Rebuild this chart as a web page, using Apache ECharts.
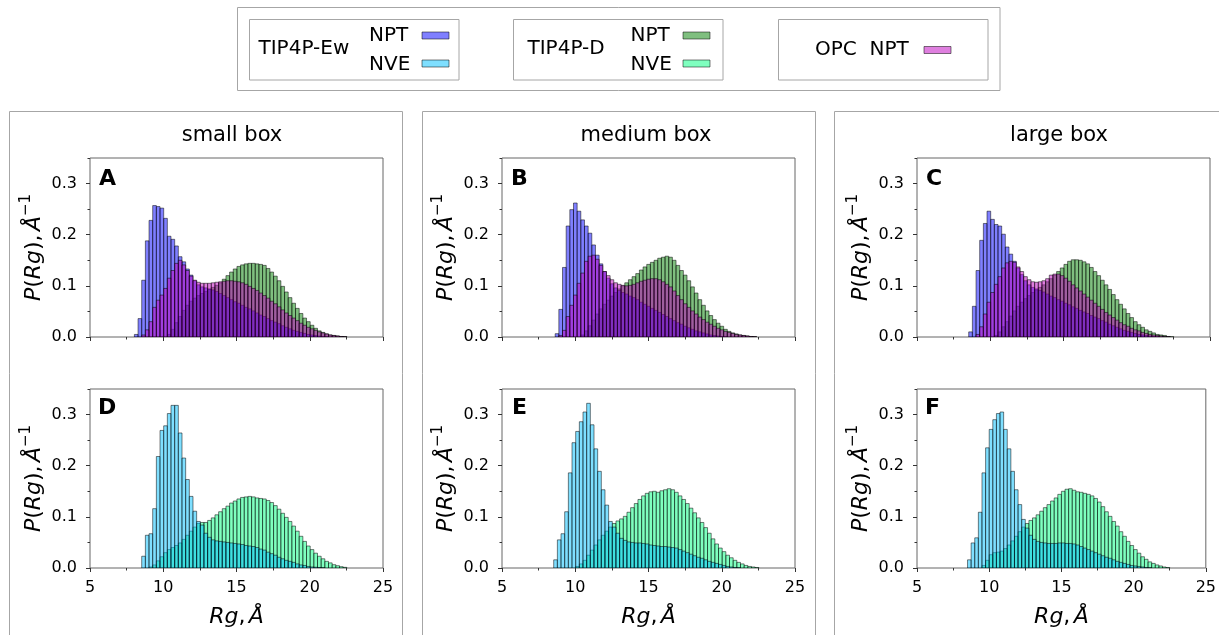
<!DOCTYPE html>
<html>
<head>
<meta charset="utf-8">
<title>Rg distributions</title>
<script src="https://cdn.jsdelivr.net/npm/echarts/dist/echarts.min.js"></script>
<style>
  html, body { margin: 0; padding: 0; background: #fff; }
  #chart { width: 1219px; height: 635px; }
</style>
</head>
<body>
<div id="chart"></div>
<script>
// Histogram bin width (Å) and the left edge of the first bin of each panel
const BIN_WIDTH = 0.25;
const binStartNpt = [8.03, 8.13, 8.03];
const binStartNve = [8.03, 8.03, 8.0];

// Column titles and panel letters
const boxTitles = ['small box', 'medium box', 'large box'];
const panelLetters = [['A', 'B', 'C'], ['D', 'E', 'F']];

// Probability densities P(Rg), one value per bin — NPT runs
const ewNptSmall = [
  0.005, 0.036, 0.111, 0.188, 0.228, 0.257, 0.255, 0.252, 0.232, 0.197,
  0.191, 0.178, 0.157, 0.147, 0.133, 0.121, 0.110, 0.102, 0.098, 0.096,
  0.094, 0.092, 0.089, 0.085, 0.081, 0.077, 0.073, 0.069, 0.066, 0.062,
  0.058, 0.055, 0.051, 0.047, 0.043, 0.040, 0.036, 0.032, 0.029, 0.026,
  0.022, 0.019, 0.016, 0.013, 0.011, 0.009, 0.007, 0.005, 0.004, 0.003,
  0.002, 0.001, 0.0005, 0, 0, 0, 0, 0
];
const dNptSmall = [
  0, 0, 0, 0, 0, 0, 0, 0, 0, 0.005,
  0.015, 0.028, 0.040, 0.052, 0.062, 0.070, 0.076, 0.081, 0.085, 0.089,
  0.093, 0.097, 0.101, 0.106, 0.113, 0.120, 0.127, 0.133, 0.138, 0.141,
  0.143, 0.144, 0.144, 0.143, 0.142, 0.140, 0.134, 0.127, 0.119, 0.110,
  0.099, 0.088, 0.077, 0.066, 0.056, 0.046, 0.037, 0.030, 0.023, 0.017,
  0.012, 0.009, 0.006, 0.004, 0.003, 0.002, 0.001, 0.0005
];
const opcNptSmall = [
  0, 0, 0.004, 0.014, 0.030, 0.058, 0.072, 0.082, 0.095, 0.115,
  0.130, 0.144, 0.150, 0.141, 0.130, 0.119, 0.111, 0.107, 0.105, 0.105,
  0.105, 0.106, 0.107, 0.108, 0.109, 0.110, 0.110, 0.109, 0.108, 0.106,
  0.103, 0.099, 0.095, 0.091, 0.086, 0.081, 0.076, 0.070, 0.065, 0.059,
  0.053, 0.047, 0.042, 0.037, 0.032, 0.027, 0.023, 0.019, 0.016, 0.013,
  0.010, 0.008, 0.006, 0.004, 0.003, 0.002, 0.001, 0.0005
];

const ewNptMedium = [
  0, 0, 0.0065, 0.054, 0.136, 0.217, 0.249, 0.262, 0.246, 0.229,
  0.217, 0.203, 0.180, 0.160, 0.143, 0.128, 0.115, 0.104, 0.096, 0.091,
  0.087, 0.084, 0.080, 0.077, 0.073, 0.068, 0.064, 0.060, 0.056, 0.052,
  0.048, 0.044, 0.040, 0.036, 0.032, 0.028, 0.025, 0.021, 0.018, 0.015,
  0.012, 0.010, 0.008, 0.006, 0.004, 0.003, 0.002, 0.001, 0.0005, 0,
  0, 0, 0, 0, 0, 0, 0, 0
];
const dNptMedium = [
  0, 0, 0, 0, 0, 0, 0, 0, 0, 0.004,
  0.012, 0.022, 0.033, 0.045, 0.055, 0.064, 0.072, 0.080, 0.087, 0.094,
  0.100, 0.106, 0.112, 0.118, 0.124, 0.131, 0.137, 0.142, 0.146, 0.150,
  0.154, 0.156, 0.158, 0.156, 0.150, 0.140, 0.130, 0.121, 0.110, 0.098,
  0.086, 0.073, 0.062, 0.051, 0.042, 0.034, 0.027, 0.021, 0.015, 0.011,
  0.008, 0.006, 0.004, 0.003, 0.002, 0.001, 0.0005, 0
];
const opcNptMedium = [
  0, 0, 0, 0.003, 0.013, 0.040, 0.062, 0.082, 0.105, 0.125,
  0.148, 0.158, 0.160, 0.152, 0.140, 0.128, 0.120, 0.112, 0.106, 0.103,
  0.101, 0.100, 0.101, 0.103, 0.106, 0.109, 0.111, 0.113, 0.114, 0.114,
  0.112, 0.108, 0.103, 0.098, 0.090, 0.081, 0.073, 0.065, 0.058, 0.051,
  0.045, 0.039, 0.034, 0.029, 0.025, 0.021, 0.017, 0.014, 0.011, 0.009,
  0.007, 0.005, 0.004, 0.003, 0.002, 0.001, 0.0005, 0
];

const ewNptLarge = [
  0, 0, 0.010, 0.060, 0.130, 0.189, 0.222, 0.246, 0.230, 0.220,
  0.217, 0.201, 0.176, 0.162, 0.148, 0.135, 0.122, 0.110, 0.102, 0.097,
  0.094, 0.091, 0.088, 0.084, 0.080, 0.077, 0.073, 0.070, 0.066, 0.063,
  0.059, 0.056, 0.052, 0.049, 0.046, 0.042, 0.039, 0.036, 0.032, 0.029,
  0.025, 0.022, 0.019, 0.016, 0.013, 0.011, 0.009, 0.007, 0.005, 0.004,
  0.003, 0.002, 0.001, 0.0005, 0, 0, 0, 0
];
const dNptLarge = [
  0, 0, 0, 0, 0, 0, 0, 0, 0, 0.003,
  0.010, 0.020, 0.030, 0.041, 0.051, 0.060, 0.068, 0.075, 0.081, 0.087,
  0.092, 0.097, 0.102, 0.108, 0.114, 0.121, 0.128, 0.135, 0.142, 0.148,
  0.151, 0.151, 0.150, 0.147, 0.143, 0.136, 0.128, 0.120, 0.111, 0.102,
  0.093, 0.083, 0.073, 0.064, 0.055, 0.046, 0.038, 0.030, 0.024, 0.019,
  0.014, 0.011, 0.008, 0.005, 0.004, 0.003, 0.001, 0.0005
];
const opcNptLarge = [
  0, 0, 0, 0, 0.005, 0.020, 0.045, 0.068, 0.087, 0.103,
  0.118, 0.135, 0.145, 0.148, 0.146, 0.137, 0.128, 0.118, 0.112, 0.108,
  0.107, 0.108, 0.110, 0.114, 0.121, 0.123, 0.123, 0.120, 0.115, 0.109,
  0.102, 0.096, 0.090, 0.084, 0.078, 0.072, 0.066, 0.060, 0.054, 0.048,
  0.043, 0.038, 0.033, 0.028, 0.024, 0.021, 0.017, 0.014, 0.012, 0.009,
  0.007, 0.005, 0.004, 0.003, 0.002, 0.001, 0.0005, 0
];

// NVE runs
const ewNveSmall = [
  0, 0, 0.023, 0.064, 0.067, 0.116, 0.218, 0.269, 0.278, 0.302,
  0.318, 0.318, 0.264, 0.215, 0.173, 0.140, 0.111, 0.091, 0.084, 0.068,
  0.060, 0.055, 0.053, 0.052, 0.051, 0.050, 0.049, 0.048, 0.047, 0.046,
  0.044, 0.043, 0.042, 0.040, 0.037, 0.035, 0.031, 0.028, 0.025, 0.021,
  0.018, 0.015, 0.013, 0.011, 0.008, 0.006, 0.005, 0.003, 0.002, 0.0015,
  0.001, 0.0005, 0, 0, 0, 0, 0, 0
];
const dNveSmall = [
  0, 0, 0, 0, 0.002, 0.006, 0.014, 0.022, 0.030, 0.036,
  0.040, 0.044, 0.049, 0.056, 0.064, 0.072, 0.080, 0.087, 0.089, 0.089,
  0.093, 0.098, 0.104, 0.110, 0.116, 0.121, 0.127, 0.131, 0.135, 0.138,
  0.139, 0.140, 0.139, 0.137, 0.136, 0.135, 0.132, 0.128, 0.122, 0.115,
  0.107, 0.099, 0.091, 0.082, 0.072, 0.062, 0.052, 0.043, 0.036, 0.029,
  0.023, 0.018, 0.013, 0.010, 0.0065, 0.0045, 0.0026, 0.0013
];

const ewNveMedium = [
  0, 0, 0.016, 0.055, 0.067, 0.110, 0.186, 0.245, 0.267, 0.286,
  0.305, 0.322, 0.280, 0.233, 0.189, 0.153, 0.123, 0.091, 0.080, 0.068,
  0.058, 0.054, 0.051, 0.050, 0.049, 0.049, 0.048, 0.047, 0.045, 0.044,
  0.043, 0.042, 0.042, 0.041, 0.040, 0.039, 0.036, 0.033, 0.030, 0.027,
  0.024, 0.021, 0.019, 0.016, 0.013, 0.011, 0.009, 0.007, 0.005, 0.003,
  0.002, 0.001, 0.0005, 0, 0, 0, 0, 0
];
const dNveMedium = [
  0, 0, 0, 0, 0, 0, 0, 0, 0.003, 0.008,
  0.015, 0.025, 0.035, 0.045, 0.055, 0.064, 0.072, 0.080, 0.087, 0.092,
  0.096, 0.101, 0.109, 0.118, 0.126, 0.134, 0.141, 0.146, 0.149, 0.150,
  0.148, 0.151, 0.153, 0.155, 0.153, 0.148, 0.141, 0.134, 0.126, 0.117,
  0.108, 0.098, 0.089, 0.079, 0.068, 0.057, 0.047, 0.039, 0.032, 0.025,
  0.020, 0.015, 0.011, 0.008, 0.005, 0.003, 0.002, 0.001
];

const ewNveLarge = [
  0, 0, 0.016, 0.049, 0.059, 0.109, 0.186, 0.235, 0.271, 0.290,
  0.302, 0.305, 0.271, 0.233, 0.189, 0.153, 0.124, 0.095, 0.078, 0.064,
  0.056, 0.052, 0.050, 0.049, 0.048, 0.048, 0.048, 0.049, 0.049, 0.048,
  0.048, 0.047, 0.045, 0.042, 0.039, 0.036, 0.033, 0.030, 0.027, 0.024,
  0.021, 0.019, 0.016, 0.013, 0.011, 0.009, 0.007, 0.005, 0.004, 0.003,
  0.002, 0.001, 0.0005, 0, 0, 0, 0, 0
];
const dNveLarge = [
  0, 0, 0, 0, 0, 0, 0.005, 0.015, 0.026, 0.030,
  0.031, 0.033, 0.038, 0.045, 0.053, 0.062, 0.071, 0.080, 0.087, 0.093,
  0.098, 0.104, 0.111, 0.118, 0.124, 0.131, 0.137, 0.144, 0.150, 0.154,
  0.155, 0.152, 0.149, 0.148, 0.146, 0.144, 0.141, 0.136, 0.129, 0.120,
  0.110, 0.101, 0.091, 0.082, 0.071, 0.062, 0.052, 0.044, 0.036, 0.029,
  0.022, 0.017, 0.012, 0.009, 0.006, 0.004, 0.002, 0.001
];

// Colours (drawn at half opacity, like the legend swatches)
const COLOR = {
  ewNpt: '#0000ff',
  ewNve: '#00bfff',
  dNpt: '#008000',
  dNve: '#00ff7f',
  opcNpt: '#bf00bf'
};
const FONT = "'DejaVu Sans', sans-serif";

// Panel geometry in pixels
const colLeft = [90, 502, 917];
const colWidth = 293;
const rowTop = [158, 389];
const rowHeight = 179;

// Per row: histograms in drawing order (TIP4P-D, TIP4P-Ew, OPC)
const rows = [
  [
    [[dNptSmall, 'dNpt'], [ewNptSmall, 'ewNpt'], [opcNptSmall, 'opcNpt']],
    [[dNptMedium, 'dNpt'], [ewNptMedium, 'ewNpt'], [opcNptMedium, 'opcNpt']],
    [[dNptLarge, 'dNpt'], [ewNptLarge, 'ewNpt'], [opcNptLarge, 'opcNpt']]
  ],
  [
    [[dNveSmall, 'dNve'], [ewNveSmall, 'ewNve']],
    [[dNveMedium, 'dNve'], [ewNveMedium, 'ewNve']],
    [[dNveLarge, 'dNve'], [ewNveLarge, 'ewNve']]
  ]
];
const binStarts = [binStartNpt, binStartNve];

function histogramData(values, start) {
  return values.map((v, i) => [start + i * BIN_WIDTH, start + (i + 1) * BIN_WIDTH, v]);
}

function barRenderer(color) {
  return function (params, api) {
    const y = api.value(2);
    if (!(y > 0)) return null;
    const p0 = api.coord([api.value(0), 0]);
    const p1 = api.coord([api.value(1), y]);
    return {
      type: 'rect',
      shape: { x: p0[0], y: p1[1], width: p1[0] - p0[0], height: p0[1] - p1[1] },
      style: { fill: color, stroke: '#000', lineWidth: 1, opacity: 0.5 }
    };
  };
}

const yName = '{i|P}{n|(}{i|Rg}{n|),} {i|Å}{s|−1}';
const xName = '{i|Rg}{n|,} {i|Å}';
const nameRich = {
  i: { fontFamily: FONT, fontStyle: 'italic', fontSize: 22, color: '#000', lineHeight: 30 },
  n: { fontFamily: FONT, fontSize: 22, color: '#000', lineHeight: 30 },
  s: { fontFamily: FONT, fontSize: 15, color: '#000', lineHeight: 15, verticalAlign: 'top' }
};
const tickLabel = { fontFamily: FONT, fontSize: 16, color: '#000' };

const grid = [], xAxis = [], yAxis = [], series = [];

rows.forEach((row, r) => {
  row.forEach((panel, c) => {
    const g = grid.length;
    grid.push({
      left: colLeft[c], top: rowTop[r], width: colWidth, height: rowHeight,
      show: true, borderColor: '#666', borderWidth: 1, backgroundColor: 'transparent'
    });
    const bottomRow = r === 1;
    // major x ticks
    xAxis.push({
      type: 'value', gridIndex: g, position: 'bottom', min: 5, max: 25, interval: 5,
      axisLine: { show: false }, splitLine: { show: false },
      axisTick: { show: true, length: 4, lineStyle: { color: '#333', width: 1 } },
      axisLabel: Object.assign({ show: bottomRow, margin: 12 }, tickLabel),
      name: bottomRow ? xName : '', nameLocation: 'middle', nameGap: 34,
      nameTextStyle: { rich: nameRich }
    });
    // minor x ticks
    xAxis.push({
      type: 'value', gridIndex: g, position: 'bottom', min: 5, max: 25, interval: 2.5,
      axisLine: { show: false }, splitLine: { show: false }, axisLabel: { show: false },
      axisTick: { show: true, length: 2.5, lineStyle: { color: '#333', width: 1 } }
    });
    // major y ticks
    yAxis.push({
      type: 'value', gridIndex: g, position: 'left', min: 0, max: 0.35, interval: 0.1,
      axisLine: { show: false }, splitLine: { show: false },
      axisTick: { show: true, length: 4, lineStyle: { color: '#333', width: 1 } },
      axisLabel: Object.assign({ margin: 13, showMaxLabel: false, formatter: v => v.toFixed(1) }, tickLabel),
      name: yName, nameLocation: 'middle', nameGap: 41,
      nameTextStyle: { rich: nameRich }
    });
    // minor y ticks
    yAxis.push({
      type: 'value', gridIndex: g, position: 'left', min: 0, max: 0.35, interval: 0.05,
      axisLine: { show: false }, splitLine: { show: false }, axisLabel: { show: false },
      axisTick: { show: true, length: 2.5, lineStyle: { color: '#333', width: 1 } }
    });
    panel.forEach(([values, key]) => {
      series.push({
        type: 'custom',
        xAxisIndex: 2 * g, yAxisIndex: 2 * g,
        data: histogramData(values, binStarts[r][c]),
        encode: { x: [0, 1], y: 2 },
        renderItem: barRenderer(COLOR[key]),
        clip: true, silent: true, animation: false
      });
    });
  });
});

// Frames, titles, panel letters and the legend
const graphic = [];
const frameStyle = { fill: 'none', stroke: '#a6a6a6', lineWidth: 1 };

[9.5, 422.5, 834.5].forEach(x => {
  graphic.push({ type: 'rect', shape: { x: x, y: 111.5, width: 393, height: 600 }, style: frameStyle, silent: true });
});
[232, 646, 1059].forEach((x, c) => {
  graphic.push({ type: 'text', x: x, y: 136, style: {
    text: boxTitles[c], font: '21px ' + FONT, fill: '#000', align: 'center', verticalAlign: 'middle'
  }});
});
const letterX = [[99, 511, 926], [98, 512, 925]];
const letterY = [179.5, 408];
panelLetters.forEach((row, r) => row.forEach((L, c) => {
  graphic.push({ type: 'text', x: letterX[r][c], y: letterY[r], style: {
    text: L, font: 'bold 22px ' + FONT, fill: '#000', align: 'left', verticalAlign: 'middle'
  }});
}));

// legend boxes
graphic.push({ type: 'rect', shape: { x: 237.5, y: 7.5, width: 762.5, height: 83 }, style: frameStyle, silent: true });
[249.5, 513.5, 778.5].forEach(x => {
  graphic.push({ type: 'rect', shape: { x: x, y: 19.5, width: 209.5, height: 60.5 }, style: frameStyle, silent: true });
});
function legendText(text, x, y) {
  graphic.push({ type: 'text', x: x, y: y, style: {
    text: text, font: '20px ' + FONT, fill: '#000', align: 'left', verticalAlign: 'middle'
  }});
}
function legendSwatch(color, x, y) {
  graphic.push({ type: 'rect', shape: { x: x, y: y, width: 27, height: 7 },
    style: { fill: color, stroke: '#000', lineWidth: 1, opacity: 0.5 }, silent: true });
}
legendText('TIP4P-Ew', 258.5, 49);
legendText('NPT', 369, 36);
legendText('NVE', 369, 64.5);
legendSwatch(COLOR.ewNpt, 422, 32);
legendSwatch(COLOR.ewNve, 422, 60);
legendText('TIP4P-D', 527.5, 49);
legendText('NPT', 630.5, 36);
legendText('NVE', 630.5, 64.5);
legendSwatch(COLOR.dNpt, 683, 32);
legendSwatch(COLOR.dNve, 683, 60);
legendText('OPC  NPT', 815, 50);
legendSwatch(COLOR.opcNpt, 924, 46.5);

const chart = echarts.init(document.getElementById('chart'), null, { renderer: 'canvas' });
chart.setOption({
  animation: false,
  backgroundColor: '#fff',
  grid: grid,
  xAxis: xAxis,
  yAxis: yAxis,
  series: series,
  graphic: graphic
});
</script>
</body>
</html>
